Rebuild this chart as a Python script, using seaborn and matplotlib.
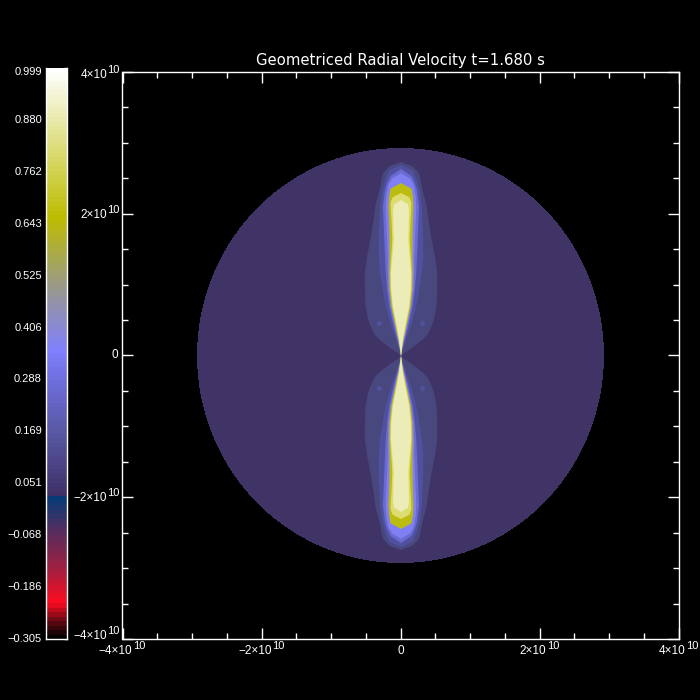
import numpy as np
import matplotlib
matplotlib.use("Agg")
import matplotlib.pyplot as plt
from matplotlib.colors import LinearSegmentedColormap
from matplotlib.patches import Circle
from matplotlib.ticker import MultipleLocator
from matplotlib.transforms import offset_copy
import seaborn as sns

sns.set_style("dark")
plt.rcParams["font.family"] = ["Liberation Sans", "DejaVu Sans"]

title = "Geometriced Radial Velocity t=1.680 s"
cbar_labels = ["0.999", "0.880", "0.762", "0.643", "0.525", "0.406", "0.288",
               "0.169", "0.051", "\u22120.068", "\u22120.186", "\u22120.305"]
cbar_values = [0.999, 0.880, 0.762, 0.643, 0.525, 0.406, 0.288,
               0.169, 0.051, -0.068, -0.186, -0.305]
axis_ticks = [-4, -2, 0, 2, 4]
disk_radius = 2.92
disk_color = "#403366"

# Jet contour bands: height above the equator and half-width (units of 1e10)
band_colors = ["#48487f", "#5050a0", "#6a6ad0", "#8080f4", "#bcbc10", "#dcdc70", "#ececb8"]
band_y = [
    [2.74, 2.68, 2.58, 2.34, 2.11, 1.88, 1.64, 1.40, 1.17, 0.94, 0.70, 0.50, 0.38, 0.30, 0.23, 0.11, 0.04, 0.0],
    [2.70, 2.62, 2.50, 2.34, 2.11, 1.88, 1.64, 1.40, 1.25, 1.10, 0.70, 0.42, 0.23, 0.10, 0.0],
    [2.64, 2.54, 2.44, 2.34, 2.11, 1.88, 1.64, 1.40, 1.17, 0.94, 0.70, 0.40, 0.23, 0.08, 0.0],
    [2.58, 2.50, 2.42, 2.26, 2.11, 1.88, 1.64, 1.40, 1.17, 0.94, 0.70, 0.40, 0.20, 0.06, 0.0],
    [2.44, 2.36, 2.26, 2.11, 1.88, 1.64, 1.40, 1.17, 0.94, 0.70, 0.40, 0.20, 0.06, 0.0],
    [2.30, 2.24, 2.16, 2.05, 1.88, 1.64, 1.40, 1.17, 0.94, 0.70, 0.40, 0.20, 0.05, 0.0],
    [2.20, 2.14, 2.05, 1.88, 1.64, 1.40, 1.17, 0.94, 0.70, 0.40, 0.20, 0.04, 0.0],
]
band_w = [
    [0.00, 0.16, 0.26, 0.31, 0.37, 0.40, 0.44, 0.49, 0.52, 0.52, 0.51, 0.47, 0.42, 0.38, 0.31, 0.15, 0.04, 0.0],
    [0.00, 0.17, 0.22, 0.27, 0.30, 0.31, 0.32, 0.32, 0.31, 0.29, 0.22, 0.14, 0.07, 0.025, 0.0],
    [0.00, 0.15, 0.20, 0.23, 0.26, 0.25, 0.24, 0.23, 0.22, 0.20, 0.17, 0.10, 0.055, 0.015, 0.0],
    [0.00, 0.13, 0.18, 0.21, 0.22, 0.21, 0.20, 0.19, 0.19, 0.18, 0.15, 0.085, 0.04, 0.01, 0.0],
    [0.00, 0.15, 0.17, 0.18, 0.17, 0.165, 0.165, 0.17, 0.165, 0.14, 0.075, 0.03, 0.008, 0.0],
    [0.00, 0.12, 0.15, 0.145, 0.135, 0.125, 0.14, 0.155, 0.15, 0.125, 0.065, 0.025, 0.006, 0.0],
    [0.00, 0.10, 0.115, 0.11, 0.105, 0.125, 0.145, 0.14, 0.115, 0.055, 0.022, 0.004, 0.0],
]
blob_x = [-0.31, 0.31, -0.31, 0.31]
blob_y = [0.46, 0.46, -0.46, -0.46]

cbar_stops = [(0.0, "#000000"), (0.03, "#6a0a14"), (0.06, "#ff0a20"),
              (0.12, "#a02040"), (0.18, "#5c2c5c"), (0.25, "#003c78"),
              (0.2501, "#403068"), (0.36, "#5858a4"), (0.45, "#6e6edc"), (0.506, "#8080ff"),
              (0.60, "#9494a0"), (0.74, "#bcbc00"), (0.91, "#e8e8a8"),
              (1.0, "#ffffff")]
cmap = LinearSegmentedColormap.from_list("vel", cbar_stops, N=256)

W = H = 700
fig = plt.figure(figsize=(7, 7), dpi=100, facecolor="black")

# Colour bar
cax = fig.add_axes([45.5 / W, 1 - 639 / H, 21 / W, 571 / H])
gradient = np.linspace(0.999, -0.305, 128).reshape(-1, 1)
sns.heatmap(gradient, ax=cax, cmap=cmap, cbar=False, xticklabels=False,
            yticklabels=False, vmin=-0.305, vmax=0.999)
cax.set_xticks([])
tick_pos = [(0.999 - v) / 1.304 * 128 for v in cbar_values]
cax.set_yticks(tick_pos)
cax.set_yticklabels(cbar_labels)
cax.tick_params(axis="y", left=False, right=True, direction="in", length=2.5,
                width=1, color="white", labelleft=False)
for v, lab in zip(tick_pos, cbar_labels):
    yy = v if v > 2 else 1.0
    cax.text(-0.17, yy, lab, color="white", fontsize=8, ha="right", va="center",
             transform=cax.get_yaxis_transform())
for s in cax.spines.values():
    s.set_visible(True)
    s.set_color("white")
    s.set_linewidth(1)
cax.spines["top"].set_visible(False)

# Main panel
ax = fig.add_axes([122.5 / W, 1 - 639 / H, 556 / W, 567 / H], facecolor="black")
ax.set_xlim(-4, 4)
ax.set_ylim(-4, 4)
ax.add_patch(Circle((0, 0), disk_radius, color=disk_color, lw=0, antialiased=False))
for ys, ws, c in zip(band_y, band_w, band_colors):
    ys = np.array(ys)
    ws = np.array(ws)
    for sign in (1, -1):
        ax.fill_betweenx(sign * ys, -ws, ws, color=c, lw=0, antialiased=False)
sns.scatterplot(x=blob_x, y=blob_y, ax=ax, s=14, color=band_colors[1], linewidth=0, legend=False)

ax.set_xticks(axis_ticks)
ax.set_yticks(axis_ticks)
ax.set_xticklabels([])
ax.set_yticklabels([])
ax.xaxis.set_minor_locator(MultipleLocator(0.5))
ax.yaxis.set_minor_locator(MultipleLocator(0.5))
ax.tick_params(which="major", direction="in", length=8, width=1, color="white",
               top=True, right=True, bottom=True, left=True)
ax.tick_params(which="minor", direction="in", length=4.3, width=1, color="white",
               top=True, right=True, bottom=True, left=True)
ax.grid(False)
for s in ax.spines.values():
    s.set_visible(True)
    s.set_color("white")
    s.set_linewidth(1)


def label(trans, x, y, value, dx, dy, ha):
    """Write a tick label as mantissa x 10 with a full-size exponent; dx, dy in pixels."""
    if value == 0:
        tr = offset_copy(trans, fig=fig, x=dx, y=dy, units="dots")
        ax.text(x, y, "0", color="white", fontsize=8.5, ha=ha, va="center",
                transform=tr, clip_on=False)
        return
    sign = "\u2212" if value < 0 else ""
    main = f"{sign}{abs(value)}\u00d710"
    tr = offset_copy(trans, fig=fig, x=dx, y=dy, units="dots")
    ax.text(x, y, main, color="white", fontsize=8.5, ha="right", va="center",
            transform=tr, clip_on=False)
    tr2 = offset_copy(trans, fig=fig, x=dx + 0.5, y=dy + 5, units="dots")
    ax.text(x, y, "10", color="white", fontsize=8, ha="left", va="center",
            transform=tr2, clip_on=False)


for v in axis_ticks:
    if v == 0:
        label(ax.get_xaxis_transform(), v, 0, v, 0, -12, "center")
        label(ax.get_yaxis_transform(), 0, v, v, -4, 0, "right")
    else:
        label(ax.get_xaxis_transform(), v, 0, v, 10 if v < 0 else 7, -12, "right")
        shift = -3 if v == 4 else (3 if v == -4 else -1)
        label(ax.get_yaxis_transform(), 0, v, v, -15.5, shift, "right")

ax.text(0.5, 1, title, color="white", fontsize=10.75, ha="center", va="center",
        transform=offset_copy(ax.transAxes, fig=fig, x=0, y=11, units="dots"),
        family="DejaVu Sans")
fig.savefig("out.png", dpi=100, facecolor="black")
